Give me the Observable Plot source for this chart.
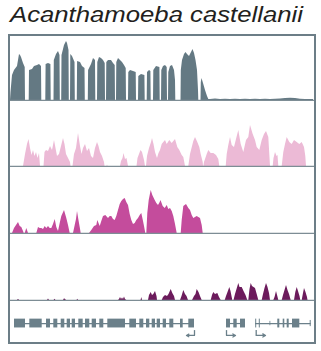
<!DOCTYPE html>
<html><head><meta charset="utf-8">
<script src="https://cdn.jsdelivr.net/npm/d3@7"></script>
<script src="https://cdn.jsdelivr.net/npm/@observablehq/plot@0.6"></script>
<style>
body{margin:0;background:#fff;width:321px;height:351px;overflow:hidden;position:relative;font-family:"Liberation Sans",Arial,sans-serif}
#title{position:absolute;left:10px;top:4px;font-style:italic;font-size:22px;line-height:22px;color:#231f20;white-space:nowrap;transform-origin:0 0}
#frame{position:absolute;left:8px;top:34px;width:304px;height:306px;border:2px solid #6c7e87}
#frame svg{display:block}
</style></head><body>
<div id="title"><span id="tt">Acanthamoeba castellanii</span></div>
<div id="frame"></div>
<script>
const titleText = "Acanthamoeba castellanii";

// [position, signal] — track 1 (grey)
const track1 = [
[0,0],[0.5,8],[2,25],[4,30],[7,34],[9,46],[10,45],[11,43],[13,37],[14.7,33],[15,0],
[18.7,0],[19,30],[22,31],[24,34],[27,35],[29,36],[31,34],[31.3,0],
[35.3,0],[35.6,36],[38,37],[40.4,36],[40.7,0],
[43.5,0],[43.8,40],[46,46],[48,49],[49.5,45],[49.8,0],
[51.2,0],[51.5,45],[54,55],[56,59],[57,57],[58.5,50],[58.8,0],
[60,0],[60.3,46],[62,44],[64.5,38],[64.8,0],
[66.8,0],[67.1,39],[70,38],[72,34],[74.5,32],[74.8,0],
[77.8,0],[78.1,30],[81,36],[83,42],[85,40],[85.3,0],
[87,0],[87.3,38],[89,43],[91,42],[93,40],[94.7,37],[95,0],
[96,0],[96.3,38],[98,40],[101,40],[103,37],[104.7,35],[105,0],
[106,0],[106.3,38],[108,42],[110,40],[112,38],[114,35],[115.7,32],[116,0],
[118,0],[118.3,28],[120,30],[123,29],[125.7,28],[126,0],
[128,0],[128.3,24],[131,26],[134.4,25],[134.7,0],
[136.7,0],[137,28],[139,30],[140.4,29],[140.7,0],
[143,0],[143.3,30],[146,34],[149.4,33],[149.7,0],
[151,0],[151.3,30],[153,34],[155,35],[156.7,33],[157,0],
[158,0],[158.3,28],[160,34],[162,35],[164,30],[165,20],[165.3,0],
[170.5,0],[170.8,30],[172,40],[174,46],[175.5,48],[177,46],[179,44],[181,48],[182.5,51],[184,47],[185.5,40],[187,30],[188,10],[188.3,0],
[190.5,0],[190.8,18],[191.5,22],[193,17],[195,10],[197,4],[198.3,1],
[200,1],[205,1.5],[210,1],[215,1.2],[220,1],[225,1.3],[230,1],[235,1.2],[240,1],[245,1.3],[250,1],[255,1.2],[260,1],[265,1.3],[270,1.5],[275,2],[280,2.2],[285,2],[290,1.3],[295,1],[300,1],[303,1]
];

// track 2 (light pink)
const track2 = [
[13,0],[15,12],[17,22],[18.5,27],[20,18],[21.5,11],[23,16],[24.5,10],[26,14],[27.5,8],[29,13],[30,0],
[33.5,0],[34.5,14],[36,16],[38,15],[40,20],[42,16],[44,26],[45.5,18],[47,10],[49,12],[51,20],[53,28],[54.5,22],[56,12],[58,8],[60,4],[60.5,0],
[62.5,0],[64,12],[66,18],[68,33],[70,20],[71.5,12],[73,18],[75,22],[77,15],[79,18],[81,10],[83,8],[85,18],[87,24],[88.5,20],[90,14],[92,10],[94,4],[94.5,0],
[96.5,0],[97,1.5],[97.5,0],
[110,0],[111,5],[112.5,8],[113.5,13],[115,7],[116.5,8],[118,0],
[126.5,0],[127.5,8],[129,12],[130.5,16],[132,14],[134,6],[135,0],
[136,0],[137,10],[139,18],[141,24],[142,28],[143.5,22],[145,14],[147,8],[148.5,13],[150,16],[151.7,22],[153.3,24],[155,26],[156.7,22],[159.3,26],[161.7,23],[165,27],[167.3,19],[169.3,16],[171.7,11],[173.3,9],[175,0],
[178.3,0],[180,12],[183.3,25],[185,29],[187.3,24],[189.3,19],[190.7,12],[192.7,4],[193,0],
[193.3,0],[194,4],[196.7,12],[198.3,16],[200.7,13],[203.3,13],[206,11],[208.3,7],[209.3,0],
[215.7,0],[216.7,12],[218.3,21],[220,29],[221.7,21],[224,19],[226,27],[228.3,36],[230.7,22],[233.3,14],[236,26],[238.3,29],[240,41],[242.7,32],[245,26],[246.7,19],[249.3,16],[251.7,26],[254,32],[256,35],[258.3,29],[260,0],
[262.7,0],[263.5,8],[265,14],[266.5,10],[267.5,11],[268.3,0],
[271.7,0],[273.3,14],[275,22],[276.7,29],[279.3,24],[281.7,22],[284,26],[286.7,24],[289.3,22],[291.7,24],[294,19],[295.3,10],[296,0]
];

// track 3 (magenta)
const track3 = [
[2,0],[4,5],[6,8],[8,11],[9.7,7],[11.3,6],[13,2],[13.7,0],
[14.7,0],[16.3,5],[18,0],
[26.3,0],[28,6],[29.7,5],[31.3,5],[33,4],[34.7,7],[36.3,5],[38,7],[39.7,5],[41.3,5],[43,9],[44.7,14],[46.3,6],[48,2],[49.7,10],[51.3,17],[54,23],[56.3,15],[58,8],[59.7,0],
[63,0],[64.7,8],[66,14],[67,22],[68.3,14],[69.7,6],[70.7,0],
[79,0],[81.3,3],[84,7],[86.3,8],[87.3,13],[89.7,7],[91.3,12],[93,17],[95.3,18],[98,15],[99.7,17],[101.3,17],[103,14],[104.7,13],[106.3,17],[108,23],[109.7,29],[111.3,32],[113,34],[114.7,35],[116.3,31],[118,28],[119.7,19],[121.3,13],[123,9],[124.7,10],[126.3,13],[128,15],[129.7,18],[131.3,20],[133,12],[134,7],[135.3,0],
[136.3,0],[137.3,20],[138.7,33],[140.7,43],[142.3,38],[144.7,33],[146.3,30],[148,28],[149.7,31],[150.5,33],[152.7,27],[154.7,25],[156.7,28],[158.3,24],[160,25],[161.7,22],[163.3,17],[165,9],[166.7,0],
[170.7,0],[171.7,13],[173.3,27],[176,29],[178.3,25],[180,23],[181.7,18],[183.3,15],[185,16],[186.7,17],[188.3,16],[190,15],[191.7,8],[192.7,0]
];

// track 4 (dark purple)
const track4 = [
[7,0],[8,1.2],[9,0],
[37,0],[38,1.5],[39,0],
[43.5,0],[44.5,1.2],[45.5,0],
[53,0],[54,1.8],[55,1],[56,0],
[66.5,0],[67.3,1.2],[68,0],
[108,0],[109,1],[110,3],[111,1],[112,2.5],[113,1],[114,3.5],[115,1],[116.3,0],
[130.5,0],[131.3,3],[132,0],
[138,0],[139,5],[140.7,8],[142,5],[143.3,6],[145,9],[146.5,4],[147,0],
[151.7,0],[153,3],[155,5],[157,4],[158.5,6],[160.7,11],[162.3,7],[164,4],[165,0],
[170,0],[171.5,4],[173.3,10],[175,6],[176.5,4],[178,0],
[182,0],[184,4],[185.5,6],[186.7,11],[188.5,8],[190,4],[191.7,0],
[200.7,0],[202,5],[203.3,8],[205,6],[207.3,7],[209,3],[210.7,0],
[214.7,0],[216,4],[217.5,8],[219.3,13],[220.5,9],[221.7,3],[222.3,0],
[223.5,0],[225,6],[226.5,11],[228.3,17],[229.5,13],[231.7,13],[233.5,9],[235.5,5],[237.3,0],
[238.3,0],[239.5,11],[240.7,17],[242,14],[243.5,13],[245,12],[246.7,6],[248.3,0],
[251.7,0],[253,6],[254.5,12],[256,17],[257.5,13],[259,7],[260,0],
[263.3,0],[264.5,3],[266,9],[267.3,4],[268.3,0],
[271.7,0],[273,5],[274.5,10],[276,15],[277.5,10],[279,6],[280.7,0],
[284,0],[285.3,8],[286.7,13],[288,9],[289.5,4],[290.3,0],
[291.7,0],[293,7],[294,12],[295.5,8],[297,3],[297.5,0]
];

// gene models: introns [start, end]
const introns = [[4,184],[216,235],[245,300.7]];
// exons [start, end, half-height]
const exons = [
[4,15,1],[19.3,31.7,1],[36,40,1],[43.3,47.3,1],[50.7,54.3,1],[56.7,60,1],[61.7,65,1],[68.3,72.7,1],[75,79.3,1],[81.7,86,1],[89.3,93.3,1],[97.3,115,1],[119.3,126,1],[129.3,133.3,1],[136,139.3,1],[141.7,145,1],[146.7,150,1],[152.7,156,1],[159.3,163.3,1],[170,172.7,1],[178.3,184,1],
[216,220,1],[223.3,226.7,1],[230,235,1],
[245.2,246.2,1],[248.8,249.8,1],[259.5,260.3,0.5],[267.3,269.3,1],[272.7,274.3,1],[276.7,278.7,1],[282,289.3,1],[299.7,300.7,0.7]
];
// transcription start sites: [position, arrow tip]
const tss = [[184,176],[216,225],[245.7,255]];

const colors = {grey:"#647983", pink:"#ecbad6", magenta:"#c44c9c", purple:"#6c1b5c", gene:"#6b808a", divider:"#7d8d95"};

function track(data, color, h) {
  return Plot.plot({
    width: 304, height: h, marginTop: 0, marginLeft: 0, marginRight: 0, marginBottom: 1,
    x: {domain: [0, 304], axis: null},
    y: {domain: [0, h - 1], axis: null},
    marks: [
      Plot.areaY(data, {x: d => d[0], y: d => d[1], fill: color, curve: "linear"}),
      Plot.ruleY([0], {stroke: colors.divider, strokeWidth: 1.5})
    ]
  });
}

const frame = document.getElementById("frame");
frame.appendChild(track(track1, colors.grey, 65));
frame.appendChild(track(track2, colors.pink, 66));
frame.appendChild(track(track3, colors.magenta, 67));
frame.appendChild(track(track4, colors.purple, 67));

frame.appendChild(Plot.plot({
  width: 304, height: 41, margin: 0,
  x: {domain: [0, 304], axis: null},
  y: {domain: [-4.3, 5], axis: null},
  marks: [
    Plot.ruleY(introns, {x1: d => d[0], x2: d => d[1], y: d => 0, stroke: colors.gene, strokeWidth: 1.2}),
    Plot.rect(exons, {x1: d => d[0], x2: d => d[1], y1: d => -d[2], y2: d => d[2], fill: colors.gene}),
    Plot.ruleX(tss, {x: d => d[0], y1: d => -1.6, y2: d => -2.75, stroke: colors.gene, strokeWidth: 1.3}),
    Plot.arrow(tss, {x1: d => d[0], x2: d => d[1], y1: d => -2.7, y2: d => -2.7, stroke: colors.gene, strokeWidth: 1.3, headLength: 5})
  ]
}));

const tt = document.getElementById("tt");
tt.textContent = titleText;
const w = tt.getBoundingClientRect().width;
document.getElementById("title").style.transform = `scaleX(${293 / w})`;
</script>
</body></html>
